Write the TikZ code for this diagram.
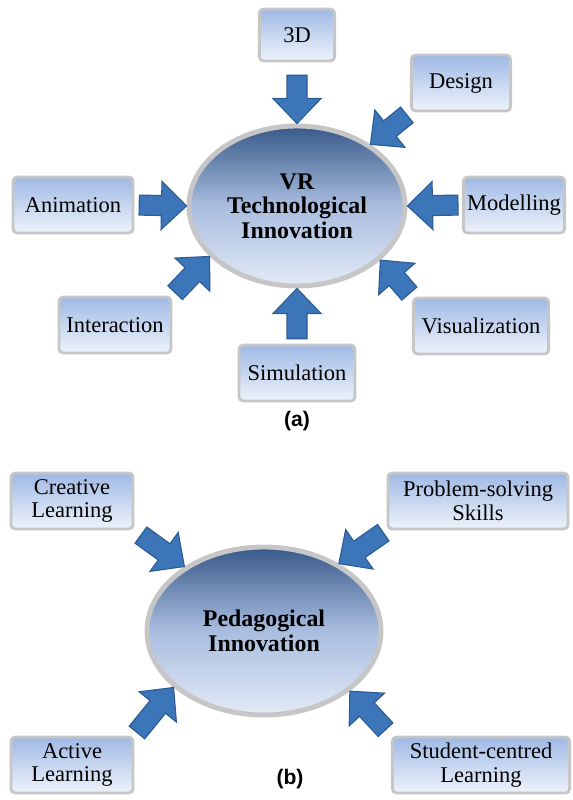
\documentclass[tikz,border=0pt]{standalone}
\usepackage{fontspec}
\setmainfont{Liberation Serif}
\newfontfamily\panelfont{Liberation Sans}
\usepackage{tikz}
\usetikzlibrary{calc,shapes.geometric}
\definecolor{arrowfill}{HTML}{3D76B8}
\definecolor{arrowline}{HTML}{2B5C96}
\definecolor{boxtop}{HTML}{9FB9E4}
\definecolor{boxbot}{HTML}{EEF3FB}
\definecolor{boxline}{HTML}{C6C6C6}
\definecolor{hubtop}{HTML}{385989}
\definecolor{hubmid}{HTML}{A9BDDF}
\definecolor{hubbot}{HTML}{E3EAF6}

% block arrow from #1 (shortened by #3) to #2
\newcommand\fatarrow[3]{%
  \coordinate (fa-s) at ($(#1)!#3!(#2)$);
  \coordinate (fa-e) at (#2);
  \coordinate (fa-b) at ($(fa-e)!0.625cm!(fa-s)$);
  \draw[fat] ($(fa-s)!0.25cm!90:(fa-e)$) -- ($(fa-b)!0.25cm!-90:(fa-s)$)
    -- ($(fa-b)!0.6cm!-90:(fa-s)$) -- (fa-e) -- ($(fa-b)!0.6cm!90:(fa-s)$)
    -- ($(fa-b)!0.25cm!90:(fa-s)$) -- ($(fa-s)!0.25cm!-90:(fa-e)$) -- cycle;}

\begin{document}
\begin{tikzpicture}[x=0.025cm, y=-0.025cm,
  box/.style={draw=boxline, line width=2pt, rounded corners=3pt, top color=boxtop, bottom color=boxbot, align=center, font=\fontsize{16}{17}\selectfont, minimum height=1.4cm, minimum width=#1, inner sep=2pt},
  hub/.style={ellipse, draw=boxline, line width=3.5pt, top color=hubtop, bottom color=hubbot, middle color=hubmid, align=center, font=\fontsize{17}{17.5}\selectfont\bfseries, inner sep=0pt},
  fat/.style={draw=arrowline, line width=0.8pt, fill=arrowfill, line join=miter},
  panel/.style={font=\panelfont\bfseries\fontsize{15}{17}\selectfont}]
\useasboundingbox (0,0) rectangle (572,800);
% (a)
\node[hub, minimum width=5.4cm, minimum height=4cm] (tvr) at (297,206) {VR\\Technological\\Innovation};
\node[box=1.88cm, minimum height=1.3cm] (d3) at (297,35) {3D};
\node[box=2.48cm] (design) at (461,83) {Design};
\node[box=3cm] (anim) at (73,205) {Animation};
\node[box=2.53cm] (model) at (514,205) {Modelling};
\node[box=2.8cm] (inter) at (115,325) {Interaction};
\node[box=3.38cm] (visual) at (481,326) {Visualization};
\node[box=2.9cm] (simul) at (297,373) {Simulation};
\node[panel] (pa) at (297,421) {(a)};
\foreach \a/\b/\g in {d3.south/tvr.90/0.32cm, design.south west/tvr.40/0.1cm, anim.east/tvr.180/0.12cm, model.west/tvr.0/0.1cm, inter.north east/tvr.210/0.1cm, simul.north/tvr.270/0.12cm, visual.north west/tvr.327/0.1cm}
  \fatarrow{\a}{\b}{\g};
% (b)
\node[hub, minimum width=5.85cm, minimum height=4.2cm] (ped) at (264,631) {Pedagogical\\Innovation};
\node[box=3.05cm] (creative) at (72,501) {Creative\\Learning};
\node[box=4.5cm] (problem) at (478,501) {Problem-solving\\Skills};
\node[box=3.05cm] (active) at (72,765) {Active\\Learning};
\node[box=4.43cm] (student) at (481,765) {Student-centred\\Learning};
\node[panel] (pb) at (290,779) {(b)};
\foreach \a/\b/\g in {creative.south east/ped.141/0.2cm, problem.south west/ped.42/0.1cm, active.north east/ped.212/0.1cm, student.north west/ped.325/0.2cm}
  \fatarrow{\a}{\b}{\g};
\end{tikzpicture}
\end{document}
